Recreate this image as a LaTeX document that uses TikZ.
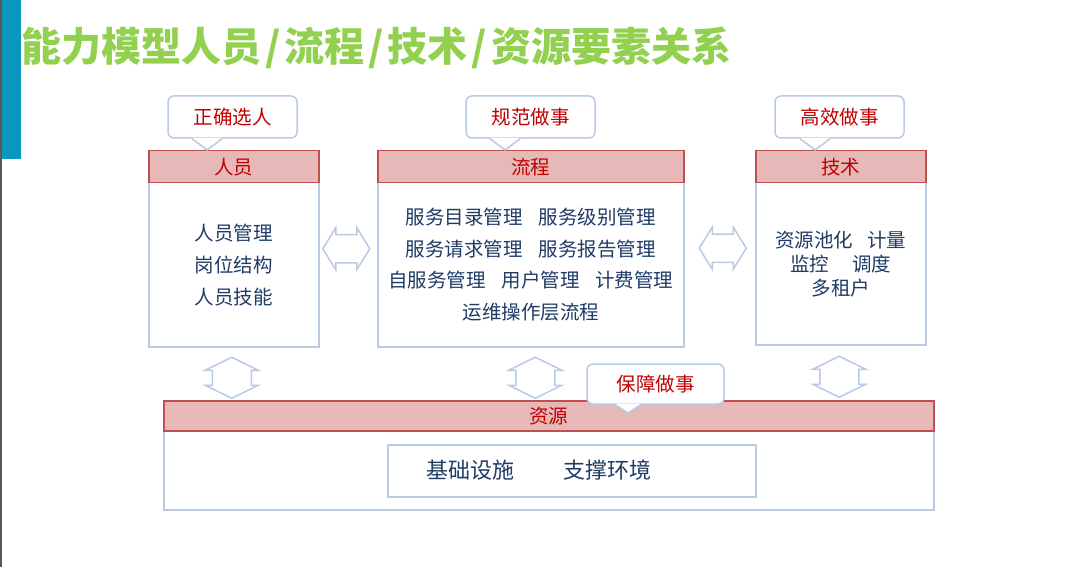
\documentclass[tikz,border=0pt]{standalone}
\usepackage{fontspec}
\setmainfont{Noto Sans CJK SC}
\usetikzlibrary{calc}
\definecolor{titlegreen}{HTML}{92D050}
\definecolor{barblue}{HTML}{0A96BF}
\definecolor{headfill}{HTML}{E6B9B8}
\definecolor{headline}{HTML}{C0504D}
\definecolor{boxline}{HTML}{B9CAE4}
\definecolor{labred}{HTML}{C00000}
\definecolor{textblue}{HTML}{1F3B66}
\begin{document}
\begin{tikzpicture}[x = 1pt, y = -1pt,
  head/.style = {draw = headline, fill = headfill, line width = 1.5pt, text = labred, font = \fontsize{19.5}{22}\selectfont, inner sep = 0pt, anchor = north west, minimum height = 32},
  body/.style = {draw = boxline, fill = white, line width = 1.5pt, text = textblue, align = center, inner sep = 0pt, anchor = north west},
  tag/.style = {draw = boxline, fill = white, line width = 1.5pt, rounded corners = 6pt, text = labred, font = \fontsize{19.5}{22}\selectfont, inner sep = 0pt, minimum width = 129, minimum height = 42},
  tagline/.style = {draw = boxline, line width = 1.5pt, line join = miter},
  dbl/.style = {draw = boxline, fill = white, line width = 1.5pt, line join = miter}]
\useasboundingbox[fill = white] (0,0) rectangle (1080,567);
% left bar and title
\draw[line width = 2pt, color = black!65] (1,0) -- (1,567);
\fill[barblue] (2,0) rectangle (21,159);
\node[anchor = west, inner sep = 0pt, text = titlegreen, font = \bfseries\fontsize{40}{42}\selectfont] (title) at (21,48) {能力模型人员\hspace{0.1em}/\hspace{0.1em}流程\hspace{0.1em}/\hspace{0.1em}技术\hspace{0.1em}/\hspace{0.1em}资源要素关系};
% people
\node[body, minimum width = 170, minimum height = 164, font = \fontsize{19.5}{32}\selectfont] (rybox) at (148,182) {人员管理\\岗位结构\\人员技能};
\node[head, minimum width = 170] (ry) at (148,150) {人员};
% process
\node[body, minimum width = 306, minimum height = 164, font = \fontsize{19.5}{31.5}\selectfont] (lcbox) at (377,182) {服务目录管理\hspace{0.8em}服务级别管理\\服务请求管理\hspace{0.8em}服务报告管理\\自服务管理\hspace{0.8em}用户管理\hspace{0.8em}计费管理\\运维操作层流程};
\node[head, minimum width = 306] (lc) at (377,150) {流程};
% technology
\node[body, minimum width = 170, minimum height = 162, font = \fontsize{19.5}{24}\selectfont] (jsbox) at (755,182) {资源池化\hspace{0.7em}计量\\监控\hspace{1.2em}调度\\多租户};
\node[head, minimum width = 170] (js) at (755,150) {技术};
% resources
\node[body, minimum width = 770, minimum height = 79] (zybox) at (163,430) {};
\node[head, minimum width = 770, minimum height = 30] (zy) at (163,400) {资源};
\node[body, minimum width = 368, minimum height = 52] (jcbox) at (387,444) {};
\node[text = textblue, font = \fontsize{22}{24}\selectfont, inner sep = 0pt] (jc) at (539,470) {基础设施\hspace{2.2em}支撑环境};
% double arrows
\draw[dbl] ($(rybox.east)!0.5!(lcbox.west)+(-25.5,-16)$) -- ++(13,-21) -- ++(0,7) -- ++(21,0) -- ++(0,-7) -- ++(13,21) -- ++(-13,21) -- ++(0,-7) -- ++(-21,0) -- ++(0,7) -- cycle;
\draw[dbl] ($(lcbox.east)!0.5!(jsbox.west)+(-20.5,-16)$) -- ++(13,-21) -- ++(0,7) -- ++(21,0) -- ++(0,-7) -- ++(13,21) -- ++(-13,21) -- ++(0,-7) -- ++(-21,0) -- ++(0,7) -- cycle;
\draw[dbl] ($(rybox.south)!0.5!(rybox.south |- zy.north)+(-2,-16.5)$) -- ++(26.5,13) -- ++(-7,0) -- ++(0,15) -- ++(7,0) -- ++(-26.5,13) -- ++(-26.5,-13) -- ++(7,0) -- ++(0,-15) -- ++(-7,0) -- cycle;
\draw[dbl] ($(lcbox.south)!0.5!(lcbox.south |- zy.north)+(4.5,-16.5)$) -- ++(26.5,13) -- ++(-7,0) -- ++(0,15) -- ++(7,0) -- ++(-26.5,13) -- ++(-26.5,-13) -- ++(7,0) -- ++(0,-15) -- ++(-7,0) -- cycle;
\draw[dbl] ($(jsbox.south)!0.5!(jsbox.south |- zy.north)+(-1.5,-16.5)$) -- ++(26.5,13) -- ++(-7,0) -- ++(0,15) -- ++(7,0) -- ++(-26.5,13) -- ++(-26.5,-13) -- ++(7,0) -- ++(0,-15) -- ++(-7,0) -- cycle;
% callouts
\node[tag] (t1) at (232.5,117) {正确选人};
\coordinate (t1tip) at (207,150);
\fill[white] ($(t1tip |- t1.south)+(-15,-1.2)$) -- (t1tip) -- ($(t1tip |- t1.south)+(15,-1.2)$) -- cycle;
\draw[tagline] ($(t1tip |- t1.south)+(-15,0)$) -- (t1tip) -- ($(t1tip |- t1.south)+(15,0)$);
\node[tag] (t2) at (530.5,117) {规范做事};
\coordinate (t2tip) at (505,150);
\fill[white] ($(t2tip |- t2.south)+(-15,-1.2)$) -- (t2tip) -- ($(t2tip |- t2.south)+(15,-1.2)$) -- cycle;
\draw[tagline] ($(t2tip |- t2.south)+(-15,0)$) -- (t2tip) -- ($(t2tip |- t2.south)+(15,0)$);
\node[tag] (t3) at (839.5,117) {高效做事};
\coordinate (t3tip) at (815,150);
\fill[white] ($(t3tip |- t3.south)+(-15,-1.2)$) -- (t3tip) -- ($(t3tip |- t3.south)+(15,-1.2)$) -- cycle;
\draw[tagline] ($(t3tip |- t3.south)+(-15,0)$) -- (t3tip) -- ($(t3tip |- t3.south)+(15,0)$);
\node[tag, minimum width = 137, minimum height = 40] (t4) at (655.5,384) {保障做事};
\coordinate (t4tip) at (628,413);
\fill[white] ($(t4tip |- t4.south)+(-13,-1.2)$) -- (t4tip) -- ($(t4tip |- t4.south)+(13,-1.2)$) -- cycle;
\draw[tagline] ($(t4tip |- t4.south)+(-13,0)$) -- (t4tip) -- ($(t4tip |- t4.south)+(13,0)$);
\end{tikzpicture}
\end{document}
